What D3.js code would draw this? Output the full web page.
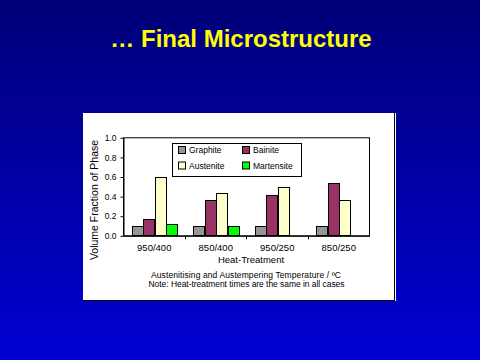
<!DOCTYPE html>
<html><head><meta charset="utf-8">
<script src="https://cdn.jsdelivr.net/npm/d3@7"></script>
<style>html,body{margin:0;padding:0;background:#000080;}svg{display:block;}</style>
</head><body>
<svg id="c" width="480" height="360"></svg>
<script>
const categories = ["950/400", "850/400", "950/250", "850/250"];
const seriesNames = ["Graphite", "Bainite", "Austenite", "Martensite"];
const graphite   = [0.09, 0.09, 0.09, 0.09];
const bainite    = [0.17, 0.36, 0.41, 0.53];
const austenite  = [0.60, 0.43, 0.49, 0.36];
const martensite = [0.12, 0.10, 0, 0];
const yTicks = [0, 0.2, 0.4, 0.6, 0.8, 1.0];
const colors = ["#969696", "#993366", "#FFFFCC", "#00FF00"];

const seriesValues = [graphite, bainite, austenite, martensite];
const svg = d3.select("#c");
const defs = svg.append("defs");
const grad = defs.append("linearGradient").attr("id","bg").attr("x1",0).attr("y1",0).attr("x2",0).attr("y2",1);
grad.append("stop").attr("offset","0%").attr("stop-color","#000078");
grad.append("stop").attr("offset","100%").attr("stop-color","#0000D2");
svg.append("rect").attr("width",480).attr("height",360).attr("fill","url(#bg)");

svg.append("text").attr("x",241).attr("y",47).attr("text-anchor","middle")
  .attr("font-family","Liberation Sans, Arial, sans-serif").attr("font-weight","bold")
  .attr("font-size",24).attr("fill","#FFFF00").text("\u2026 Final Microstructure");

// panel
svg.append("rect").attr("x",83).attr("y",113).attr("width",313).attr("height",188).attr("fill","#fff");
svg.append("line").attr("x1",394.5).attr("x2",394.5).attr("y1",113).attr("y2",301).attr("stroke","#000");
svg.append("line").attr("x1",83).attr("x2",395).attr("y1",300.5).attr("y2",300.5).attr("stroke","#000");

const L = 123, R = 369, T = 137.3, B = 235.3;
const x0 = d3.scaleBand().domain(categories).range([L,R]).paddingInner(0).paddingOuter(0);
const x1 = d3.scaleBand().domain(seriesNames).range([0, x0.bandwidth()]).paddingInner(0).paddingOuter(0.7);
const y = d3.scaleLinear().domain([0,1]).range([B,T]);
const font = "Liberation Sans, Arial, sans-serif";

// plot box
svg.append("rect").attr("x",L+0.5).attr("y",T+0.5).attr("width",R-L).attr("height",B-T).attr("fill","none").attr("stroke","#000");

// bars
categories.forEach((c,ci)=>{
  seriesNames.forEach((s,si)=>{
    const v = seriesValues[si][ci];
    if (v <= 0) return;
    svg.append("rect")
      .attr("x", Math.round(x0(c)+x1(s)+1)+0.5)
      .attr("y", Math.round(y(v))+0.5)
      .attr("width", Math.round(x1.bandwidth()))
      .attr("height", Math.round(y(0))-Math.round(y(v)))
      .attr("fill", colors[si]).attr("stroke","#000").attr("stroke-width",1);
  });
});

// y axis
const ya = svg.append("g").attr("transform",`translate(${L+0.5},0.5)`)
  .call(d3.axisLeft(y).tickValues(yTicks).tickFormat(d3.format(".1f")).tickSize(3).tickSizeOuter(0));
ya.select(".domain").attr("stroke","#000");
ya.selectAll("text").attr("font-family",font).attr("font-size",8.5).attr("fill","#000").attr("dx",-1);
// x axis
const xa = svg.append("g").attr("transform",`translate(0.5,${B+0.5})`)
  .call(d3.axisBottom(x0).tickSize(0).tickSizeOuter(0));
xa.select(".domain").attr("stroke","#000");
xa.selectAll("text").attr("font-family",font).attr("font-size",9.5).attr("fill","#000").attr("dy","1.25em");
// category separators
svg.append("g").selectAll("line").data(categories.slice(1)).join("line")
  .attr("x1",d=>Math.round(x0(d))+0.5).attr("x2",d=>Math.round(x0(d))+0.5)
  .attr("y1",B).attr("y2",B+4).attr("stroke","#000");

svg.append("text").attr("x",251).attr("y",263).attr("text-anchor","middle")
  .attr("font-family",font).attr("font-size",9.5).text("Heat-Treatment");
svg.append("text").attr("transform","translate(98,200) rotate(-90)").attr("text-anchor","middle")
  .attr("font-family",font).attr("font-size",10.5).text("Volume Fraction of Phase");
svg.append("text").attr("x",246).attr("y",278).attr("text-anchor","middle")
  .attr("font-family",font).attr("font-size",8.5).attr("textLength",190).attr("lengthAdjust","spacing")
  .text("Austenitising and Austempering Temperature / \u00BAC");
svg.append("text").attr("x",246.5).attr("y",287).attr("text-anchor","middle")
  .attr("font-family",font).attr("font-size",8.5).attr("textLength",196).attr("lengthAdjust","spacing")
  .text("Note: Heat-treatment times are the same in all cases");

// legend
const lg = svg.append("g");
lg.append("rect").attr("x",172.5).attr("y",143.5).attr("width",129).attr("height",33).attr("fill","#fff").attr("stroke","#000");
const lpos = [[178,150],[242,150],[178,165.5],[242,165.5]];
seriesNames.forEach((s,i)=>{
  const [lx,ly] = lpos[i];
  lg.append("rect").attr("x",lx+0.5).attr("y",ly-3.5).attr("width",7).attr("height",7)
    .attr("fill",colors[i]).attr("stroke","#000");
  lg.append("text").attr("x",lx+11).attr("y",ly+3).attr("font-family",font).attr("font-size",8.5).text(s);
});
</script>
</body></html>
